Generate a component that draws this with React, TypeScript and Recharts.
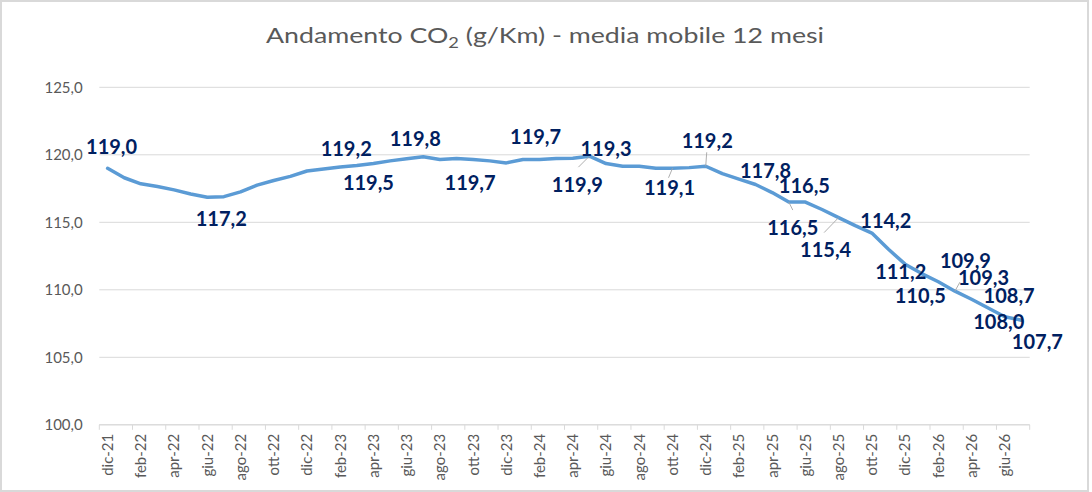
import React from 'react';
import { LineChart, Line, XAxis, YAxis, CartesianGrid, LabelList } from 'recharts';

// months, dic-21 .. lug-26
const months = [
  'dic-21',
  'gen-22', 'feb-22', 'mar-22', 'apr-22', 'mag-22', 'giu-22', 'lug-22', 'ago-22', 'set-22', 'ott-22', 'nov-22', 'dic-22',
  'gen-23', 'feb-23', 'mar-23', 'apr-23', 'mag-23', 'giu-23', 'lug-23', 'ago-23', 'set-23', 'ott-23', 'nov-23', 'dic-23',
  'gen-24', 'feb-24', 'mar-24', 'apr-24', 'mag-24', 'giu-24', 'lug-24', 'ago-24', 'set-24', 'ott-24', 'nov-24', 'dic-24',
  'gen-25', 'feb-25', 'mar-25', 'apr-25', 'mag-25', 'giu-25', 'lug-25', 'ago-25', 'set-25', 'ott-25', 'nov-25', 'dic-25',
  'gen-26', 'feb-26', 'mar-26', 'apr-26', 'mag-26', 'giu-26', 'lug-26',
];

// CO2 g/km, 12-month moving average
const co2 = [
  119.0,
  118.3, 117.85, 117.65, 117.4, 117.1, 116.85, 116.9, 117.25, 117.75, 118.1, 118.4, 118.8,
  118.95, 119.1, 119.2, 119.35, 119.55, 119.7, 119.85, 119.65, 119.72, 119.65, 119.55, 119.4,
  119.65, 119.65, 119.72, 119.75, 119.9, 119.35, 119.15, 119.15, 119.0, 119.0, 119.05, 119.15,
  118.6, 118.2, 117.8, 117.2, 116.5, 116.5, 115.95, 115.35, 114.75, 114.2, 113.0, 111.9,
  111.2, 110.6, 109.9, 109.3, 108.65, 108.0, 107.75,
];

// values printed as data labels (null = no label)
const labelValues = [
  119.0,
  null, null, null, null, null, 117.2, null, null, null, null, null, null,
  null, 119.2, null, 119.5, null, null, 119.8, null, null, 119.7, null, null,
  null, 119.7, null, null, 119.9, 119.3, null, null, null, 119.1, null, 119.2,
  null, null, 117.8, null, 116.5, 116.5, null, 115.4, null, 114.2, null, null,
  111.2, 110.5, 109.9, 109.3, 108.7, 108.0, 107.7,
];

const yTicks = [100, 105, 110, 115, 120, 125];

const data = months.map((m, i) => ({ month: m, co2: co2[i], label: labelValues[i] }));

const fmt = (v) => v.toFixed(1).replace('.', ',');

const W = 1092;
const H = 492;
const PLOT_LEFT = 99.3;
const PLOT_RIGHT = 1029.7;
const PLOT_TOP = 87.3;
const PLOT_BOTTOM = 424.8;
const HALF = (PLOT_RIGHT - PLOT_LEFT) / months.length / 2;

// label placement relative to the point: [dx, dy of text centre, leader start dx, leader start dy]
const LABEL_POS = {
  0: [4, -22],
  6: [14, 21],
  14: [6, -18],
  16: [-5, 19],
  19: [-8, -18],
  22: [-3, 23],
  26: [-4, -23],
  29: [-12, 29, -11, 11],
  30: [0, -15],
  34: [-3, 19, -4, 9.5],
  36: [1.5, -25, 1, -14],
  39: [10, -14],
  41: [4, 26, 4, 8],
  42: [-1, -16],
  44: [-13, 32, -14.5, 15],
  46: [14, -12.5],
  49: [-21, -2],
  50: [-18, 14.5],
  51: [10.5, -30, 5, -9],
  52: [12, -21],
  53: [21, -12],
  54: [-6, 4.5],
  55: [16, 22],
};

const DataLabel = (props) => {
  const { x, y, value, index } = props;
  if (value == null) return null;
  const pos = LABEL_POS[index] || [0, -15];
  const [dx, dy, lx, ly] = pos;
  return (
    <g>
      {lx != null && (
        <line x1={x + lx} y1={y + ly} x2={x} y2={y} stroke="#A6A6A6" strokeWidth={0.9} />
      )}
      <text
        x={x + dx}
        y={y + dy + 7.2}
        textAnchor="middle"
        fill="#002060"
        fontFamily="Lato, 'Open Sans', sans-serif"
        fontWeight="bold"
        fontSize={20}
      >
        {fmt(value)}
      </text>
    </g>
  );
};

const XTick = (props) => {
  const { x, payload } = props;
  const isLast = payload.value === months[months.length - 2];
  return (
    <g>
      <line x1={x - HALF} y1={PLOT_BOTTOM} x2={x - HALF} y2={PLOT_BOTTOM + 5} stroke="#D9D9D9" />
      {isLast && (
        <line x1={x + 3 * HALF} y1={PLOT_BOTTOM} x2={x + 3 * HALF} y2={PLOT_BOTTOM + 5} stroke="#D9D9D9" />
      )}
      <text
        transform={`translate(${x}, ${PLOT_BOTTOM + 9}) rotate(-90)`}
        x={0}
        y={5.4}
        textAnchor="end"
        fill="#595959"
        fontFamily="Lato, 'Open Sans', sans-serif"
        fontSize={15}
      >
        {payload.value}
      </text>
    </g>
  );
};

const YTick = (props) => {
  const { y, payload } = props;
  return (
    <text
      x={82.7}
      y={y + 5.4}
      textAnchor="end"
      fill="#595959"
      fontFamily="Lato, 'Open Sans', sans-serif"
      fontSize={15}
    >
      {fmt(payload.value)}
    </text>
  );
};

export default function App() {
  return (
    <div style={{ position: 'absolute', left: 0, top: 0, width: W, height: H, background: '#fff' }}>
      <LineChart
        width={W}
        height={H}
        data={data}
        margin={{ top: PLOT_TOP, right: W - PLOT_RIGHT, bottom: 0, left: 0 }}
      >
        <CartesianGrid vertical={false} stroke="#D9D9D9" />
        <XAxis
          dataKey="month"
          interval={1}
          padding={{ left: HALF, right: HALF }}
          height={H - PLOT_BOTTOM}
          axisLine={{ stroke: '#D9D9D9' }}
          tickLine={false}
          tick={<XTick />}
        />
        <YAxis
          width={PLOT_LEFT}
          domain={[100, 125]}
          ticks={yTicks}
          axisLine={false}
          tickLine={false}
          tick={<YTick />}
        />
        <Line
          type="linear"
          dataKey="co2"
          stroke="#5B9BD5"
          strokeWidth={3.5}
          strokeLinejoin="round"
          strokeLinecap="round"
          dot={false}
          isAnimationActive={false}
        >
          <LabelList dataKey="label" content={<DataLabel />} />
        </Line>
      </LineChart>
      {/* title drawn on top */}
      <svg width={W} height={60} style={{ position: 'absolute', left: 0, top: 0, pointerEvents: 'none' }}>
        <text
          x={266}
          y={43.3}
          textLength={558}
          lengthAdjust="spacingAndGlyphs"
          fill="#595959"
          fontFamily="Lato, 'Open Sans', sans-serif"
          fontSize={22}
        >
          Andamento CO
          <tspan fontSize={15} dy={5}>2</tspan>
          <tspan dy={-5}> (g/Km) - media mobile 12 mesi</tspan>
        </text>
      </svg>
      <div
        style={{
          position: 'absolute',
          left: 0,
          top: 0,
          width: 1089,
          height: 492,
          boxSizing: 'border-box',
          border: '2px solid #D9D9D9',
          pointerEvents: 'none',
        }}
      />
    </div>
  );
}
